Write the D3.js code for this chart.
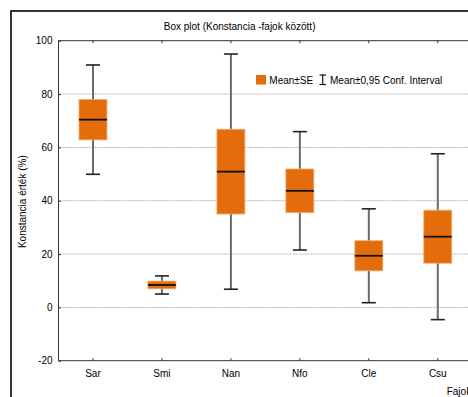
<!DOCTYPE html>
<html>
<head>
<meta charset="utf-8">
<script src="https://cdn.jsdelivr.net/npm/d3@7"></script>
<style>
  html, body { margin: 0; padding: 0; background: #fff; }
  svg { display: block; font-family: "Liberation Sans", Arial, sans-serif; }
</style>
</head>
<body>
<svg id="chart" width="468" height="397"></svg>
<script>
// Species (Fajok) and their constancy statistics, in percent
const categories = ["Sar", "Smi", "Nan", "Nfo", "Cle", "Csu"];
const means      = [70.4, 8.4, 50.9, 43.7, 19.35, 26.5];
const stdErrors  = [7.6, 1.45, 15.9, 8.2, 5.65, 9.95];
const ci95Half   = [20.5, 3.4, 44.1, 22.2, 17.6, 31.1];
const yTicks     = [-20, 0, 20, 40, 60, 80, 100];
const gridTicks  = [0, 20, 40, 60, 80];

const rows = categories.map((c, i) => ({
  cat: c,
  mean: means[i],
  se: stdErrors[i],
  ci: ci95Half[i]
}));

const svg = d3.select("#chart");
const orange = "#E46C0A";

// Outer frame of the graph window
svg.append("rect")
  .attr("x", 11).attr("y", 11)
  .attr("width", 480).attr("height", 420)
  .attr("fill", "none").attr("stroke", "#000").attr("stroke-width", 1.6);

const plot = { left: 58.5, top: 40.7, bottom: 360.7, band: 68.96 };
plot.right = plot.left + plot.band * categories.length;

const x = d3.scaleBand().domain(categories).range([plot.left, plot.right]).padding(0);
const y = d3.scaleLinear().domain([-20, 100]).range([plot.bottom, plot.top]);

// Horizontal dotted grid lines
svg.append("g").selectAll("line")
  .data(gridTicks).join("line")
  .attr("x1", plot.left).attr("x2", plot.right)
  .attr("y1", d => y(d)).attr("y2", d => y(d))
  .attr("stroke", "#b4b4b4").attr("stroke-width", 1)
  .attr("stroke-dasharray", "2,1");

// Plot area border
svg.append("rect")
  .attr("x", plot.left).attr("y", plot.top)
  .attr("width", plot.right - plot.left).attr("height", plot.bottom - plot.top)
  .attr("fill", "none").attr("stroke", "#333").attr("stroke-width", 1);

// Axes with inward ticks
const styleAxis = g => {
  g.select(".domain").remove();
  g.selectAll(".tick line").attr("stroke", "#333");
  g.selectAll(".tick text").attr("fill", "#000").attr("font-size", 10);
};

svg.append("g")
  .attr("transform", `translate(${plot.left},0)`)
  .call(d3.axisLeft(y).tickValues(yTicks).tickFormat(d => String(d))
    .tickSizeInner(-2.5).tickSizeOuter(0).tickPadding(6))
  .call(styleAxis)
  .attr("font-family", null);

svg.append("g")
  .attr("transform", `translate(0,${plot.bottom})`)
  .call(d3.axisBottom(x).tickSizeInner(-2.5).tickSizeOuter(0).tickPadding(9))
  .call(styleAxis)
  .attr("font-family", null);

svg.append("g")
  .attr("transform", `translate(0,${plot.top})`)
  .call(d3.axisTop(x).tickSizeInner(-2.5).tickSizeOuter(0).tickFormat(""))
  .call(styleAxis);

// Box-and-whisker marks: box = mean ± SE, whiskers = mean ± 95% CI
const boxW = 28, capW = 14;
const marks = svg.append("g").selectAll("g")
  .data(rows).join("g")
  .attr("transform", d => `translate(${x(d.cat) + x.bandwidth() / 2},0)`);

marks.append("line")
  .attr("x1", 0).attr("x2", 0)
  .attr("y1", d => y(d.mean + d.ci)).attr("y2", d => y(d.mean - d.ci))
  .attr("stroke", "#6a6a6a").attr("stroke-width", 2);

marks.selectAll("line.cap")
  .data(d => [d.mean + d.ci, d.mean - d.ci]).join("line")
  .attr("class", "cap")
  .attr("x1", -capW / 2).attr("x2", capW / 2)
  .attr("y1", v => y(v)).attr("y2", v => y(v))
  .attr("stroke", "#222").attr("stroke-width", 1.6);

marks.append("rect")
  .attr("x", -boxW / 2).attr("width", boxW)
  .attr("y", d => y(d.mean + d.se))
  .attr("height", d => y(d.mean - d.se) - y(d.mean + d.se))
  .attr("fill", orange).attr("stroke", "#f2b07a").attr("stroke-width", 0.8);

marks.append("line")
  .attr("x1", -boxW / 2).attr("x2", boxW / 2)
  .attr("y1", d => y(d.mean)).attr("y2", d => y(d.mean))
  .attr("stroke", "#111").attr("stroke-width", 1.8);

// Title and axis titles
svg.append("text")
  .attr("x", 239.6).attr("y", 30)
  .attr("text-anchor", "middle").attr("font-size", 10)
  .text("Box plot (Konstancia -fajok között)");

svg.append("text")
  .attr("transform", "translate(26,201.7) rotate(-90)")
  .attr("text-anchor", "middle").attr("font-size", 10)
  .text("Konstancia érték (%)");

svg.append("text")
  .attr("x", 446.7).attr("y", 395)
  .attr("font-size", 10)
  .text("Fajok");

// Legend
const legend = svg.append("g");
legend.append("rect")
  .attr("x", 256).attr("y", 75).attr("width", 10).attr("height", 9.5)
  .attr("fill", orange);
legend.append("text")
  .attr("x", 269.3).attr("y", 84)
  .attr("font-size", 10)
  .text("Mean±SE");
const sym = legend.append("g").attr("stroke", "#111").attr("stroke-width", 1.2);
sym.append("line").attr("x1", 322.7).attr("x2", 322.7).attr("y1", 75).attr("y2", 84.5);
sym.append("line").attr("x1", 319.5).attr("x2", 326).attr("y1", 75).attr("y2", 75);
sym.append("line").attr("x1", 319.5).attr("x2", 326).attr("y1", 84.5).attr("y2", 84.5);
legend.append("text")
  .attr("x", 330).attr("y", 84)
  .attr("font-size", 10)
  .text("Mean±0,95 Conf. Interval");
</script>
</body>
</html>
